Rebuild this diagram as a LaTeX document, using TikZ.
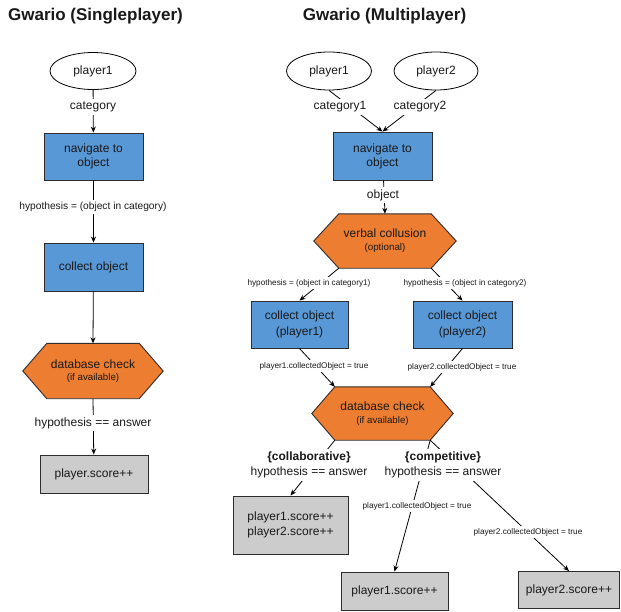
\documentclass[tikz,border=0pt]{standalone}
\usepackage{fontspec}
\setmainfont{Liberation Sans}
\usetikzlibrary{shapes.geometric,arrows.meta,backgrounds}
\definecolor{boxblue}{RGB}{88,152,214}
\definecolor{hexorange}{RGB}{237,125,49}
\definecolor{scoregray}{RGB}{204,204,204}
\definecolor{edgedark}{RGB}{45,45,45}
\definecolor{txtcol}{RGB}{25,25,25}
\newcommand\hexback[2]{%
  \begin{pgfonlayer}{background}
    \filldraw[hexshape] (#1.north west) -- (#1.north east) -- ([xshift=#2]#1.east)
      -- (#1.south east) -- (#1.south west) -- ([xshift=-#2]#1.west) -- cycle;
  \end{pgfonlayer}}
\begin{document}
\begin{tikzpicture}[x=1pt,y=-1pt,
  every node/.style={text=txtcol, font=\fontsize{12}{14}\selectfont},
  titletext/.style={font=\fontsize{17}{20}\bfseries\selectfont},
  player/.style={ellipse, draw=black, line width=0.8pt, fill=white, inner sep=0pt, minimum height=38pt},
  bluebox/.style={draw=edgedark, line width=0.9pt, fill=boxblue, align=center, inner sep=0pt},
  graybox/.style={draw=edgedark, line width=0.9pt, fill=scoregray, align=center, inner sep=0pt},
  hexcore/.style={inner sep=0pt, align=center},
  hexshape/.style={draw=edgedark, line width=0.9pt, fill=hexorange},
  lab/.style={fill=white, inner sep=2.5pt, align=center},
  smalllab/.style={lab, font=\fontsize{8.2}{10}\selectfont},
  midlab/.style={lab, font=\fontsize{10.2}{12}\selectfont},
  conn/.style={draw=black, line width=0.8pt, -{Stealth[length=6pt,width=5pt]}}
]
\useasboundingbox (0,0) rectangle (621,611);

% ---------- Singleplayer ----------
\node[titletext] (t1) at (95.5,16) {Gwario (Singleplayer)};
\node[player, minimum width=86pt, minimum height=37pt] (p1L) at (93,71) {player1};
\node[bluebox, minimum width=99pt, minimum height=47pt, font=\fontsize{12}{13.8}\selectfont] (navL) at (93.5,156.5) {navigate to\\object};
\node[bluebox, minimum width=99pt, minimum height=48pt] (collL) at (93.5,267) {collect object};
\node[hexcore, minimum width=92pt, minimum height=55pt] (dbL) at (93,371)
  {database check\\[-1.5pt]{\fontsize{9.7}{11}\selectfont (if available)}};
\hexback{dbL}{24pt}
\node[graybox, minimum width=108pt, minimum height=38pt] (scoreL) at (94,474) {player.score++};

\draw[conn] (p1L) -- (navL);
\draw[conn] (navL) -- (collL);
\draw[conn] (collL) -- (dbL.north);
\draw[conn] (dbL.south) -- (scoreL);

\node[lab] (lcat) at (93,107) {category};
\node[midlab] (lhyp) at (93,207) {hypothesis = (object in category)};
\node[lab] (lans) at (93,423) {hypothesis == answer};

% ---------- Multiplayer ----------
\node[titletext] (t2) at (384.5,16) {Gwario (Multiplayer)};
\node[player, minimum width=85pt] (p1R) at (329,71) {player1};
\node[player, minimum width=84pt] (p2R) at (436,71) {player2};
\node[bluebox, minimum width=99pt, minimum height=48pt, font=\fontsize{12}{13.8}\selectfont] (navR) at (382.5,156) {navigate to\\object};
\node[hexcore, minimum width=92pt, minimum height=54pt] (vcR) at (385,241)
  {verbal collusion\\[-1pt]{\fontsize{9.8}{11}\selectfont (optional)}};
\hexback{vcR}{25pt}
\node[bluebox, minimum width=97pt, minimum height=47pt, font=\fontsize{12}{16}\selectfont] (c1R) at (299.5,324.5) {collect object\\(player1)};
\node[bluebox, minimum width=99pt, minimum height=47pt, font=\fontsize{12}{16}\selectfont] (c2R) at (462.5,324.5) {collect object\\(player2)};
\node[hexcore, minimum width=95pt, minimum height=53pt] (dbR) at (382.5,413.5)
  {database check\\[-1.5pt]{\fontsize{9.7}{11}\selectfont (if available)}};
\hexback{dbR}{23pt}
\node[graybox, minimum width=115pt, minimum height=58pt, font=\fontsize{12}{15}\selectfont] (collab) at (290.5,525) {player1.score++\\player2.score++};
\node[graybox, minimum width=107pt, minimum height=38pt] (s1) at (394.5,591) {player1.score++};
\node[graybox, minimum width=101pt, minimum height=37pt] (s2) at (569,590) {player2.score++};

\draw[conn] (p1R.south) -- (navR.north);
\draw[conn] (p2R.south) -- (navR.north);
\draw[conn] (navR) -- (vcR.north);
\draw[conn] (vcR.south west) -- (c1R.north);
\draw[conn] (vcR.south east) -- (c2R.north);
\draw[conn] (c1R.south) -- (dbR.north west);
\draw[conn] (c2R.south) -- (dbR.north east);
\draw[conn] (dbR.south west) -- (collab.north);
\draw[conn] (dbR.south east) -- (s1.north);
\draw[conn] (dbR.south east) -- (s2.north);

\node[lab] (lcat1) at (340,107) {category1};
\node[lab] (lcat2) at (420,107) {category2};
\node[lab] (lobj) at (383,195) {object};
\node[smalllab] (lh1) at (309,283) {hypothesis = (object in category1)};
\node[smalllab] (lh2) at (465,283) {hypothesis = (object in category2)};
\node[smalllab] (lc1) at (314,366) {player1.collectedObject = true};
\node[smalllab] (lc2) at (462,367) {player2.collectedObject = true};
\node[lab, font=\fontsize{12}{15}\selectfont] (lcollab) at (309,465) {\textbf{\{collaborative\}}\\hypothesis == answer};
\node[lab, font=\fontsize{12}{15}\selectfont] (lcomp) at (443,465) {\textbf{\{competitive\}}\\hypothesis == answer};
\node[smalllab] (lp1) at (417,506) {player1.collectedObject = true};
\node[smalllab] (lp2) at (528,532) {player2.collectedObject = true};
\end{tikzpicture}
\end{document}
